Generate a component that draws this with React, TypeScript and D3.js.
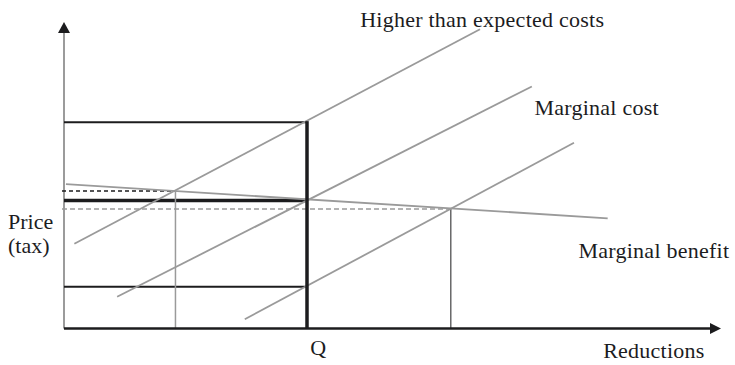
import React from 'react';
import * as d3 from 'd3';

// curves: [x0, y0, x1, y1] in chart units (0-100 on both axes)
const curveNames = ['Higher than expected costs', 'Marginal cost', 'Lower cost', 'Marginal benefit'];
const curveStart = [[1.6, 28.3], [8.2, 10.6], [27.9, 3.1], [0.3, 48.2]];
const curveEnd = [[64.2, 99.9], [72.2, 80.8], [78.7, 62.0], [83.9, 36.8]];

// key quantities and price levels
const qLow = 17.2;
const qMid = 37.5;
const qHigh = 59.7;
const priceHigh = 68.9;
const priceMidUp = 45.9;
const priceMid = 42.7;
const priceMidDown = 39.9;
const priceLow = 13.9;

// text labels: [text, x, y] in chart units
const labels: [string, number, number][] = [
  ['Higher than expected costs', 45.7, 100.6],
  ['Marginal cost', 72.6, 71.3],
  ['Marginal benefit', 79.4, 23.6],
  ['Q', 38.0, -8.9],
  ['Reductions', 83.2, -10.0],
];
const yLabels = ['Price', '(tax)'];

const W = 735;
const H = 365;
const x = d3.scaleLinear().domain([0, 100]).range([64, 712]);
const y = d3.scaleLinear().domain([0, 100]).range([328.5, 29]);

const serif = '"Liberation Serif", "DejaVu Serif", serif';
const grey = '#9a9a9a';
const ink = '#1c1c1e';

export default function App() {
  const line = d3.line<number[]>().x((d) => x(d[0])).y((d) => y(d[1]));
  const x0 = x(0);
  const y0 = y(0);
  const yTop = 22;
  const xEnd = 721;

  return (
    <svg width={W} height={H} style={{ position: 'absolute', left: 0, top: 0, background: '#fff' }}>
      {/* y axis */}
      <line x1={x0} y1={y0} x2={x0} y2={yTop + 9} stroke="#7a7a7a" strokeWidth={1.5} />
      <path d={`M${x0},${yTop} L${x0 - 6},${yTop + 11} L${x0 + 6},${yTop + 11} Z`} fill={ink} />

      {/* reference levels */}
      <line x1={x0} x2={x(qMid)} y1={y(priceHigh)} y2={y(priceHigh)} stroke={ink} strokeWidth={2} />
      <line x1={x0} x2={x(qMid)} y1={y(priceLow)} y2={y(priceLow)} stroke={ink} strokeWidth={2} />
      <line x1={x0 - 2} x2={x(qLow)} y1={y(priceMidUp)} y2={y(priceMidUp)} stroke={ink} strokeWidth={1.5} strokeDasharray="4,3" />
      <line x1={x0 - 2} x2={x(qHigh)} y1={y(priceMidDown)} y2={y(priceMidDown)} stroke={grey} strokeWidth={1.3} strokeDasharray="5,3" />
      <line x1={x0} x2={x(qMid)} y1={y(priceMid)} y2={y(priceMid)} stroke={ink} strokeWidth={3.5} />
      <line x1={x(qLow)} x2={x(qLow)} y1={y(priceMidUp)} y2={y0} stroke={grey} strokeWidth={1.5} />
      <line x1={x(qHigh)} x2={x(qHigh)} y1={y(priceMidDown)} y2={y0} stroke={ink} strokeWidth={1} />

      {/* curves */}
      {curveNames.map((name, i) => (
        <path key={name} d={line([curveStart[i], curveEnd[i]]) || ''} stroke={grey} strokeWidth={1.8} fill="none" />
      ))}

      <line x1={x(qMid)} x2={x(qMid)} y1={y(priceHigh) - 1} y2={y0} stroke={ink} strokeWidth={3.5} />

      {/* x axis */}
      <line x1={x0} y1={y0} x2={xEnd - 8} y2={y0} stroke={ink} strokeWidth={2.5} />
      <path d={`M${xEnd},${y0} L${xEnd - 11},${y0 - 5.5} L${xEnd - 11},${y0 + 5.5} Z`} fill={ink} />

      {labels.map(([t, lx, ly]) => (
        <text key={t} x={x(lx)} y={y(ly)} fontFamily={serif} fontSize={22} letterSpacing={0.25} fill={ink}>
          {t}
        </text>
      ))}
      {yLabels.map((t, i) => (
        <text key={t} x={8} y={229 + i * 24} fontFamily={serif} fontSize={22} fill={ink}>
          {t}
        </text>
      ))}
    </svg>
  );
}
